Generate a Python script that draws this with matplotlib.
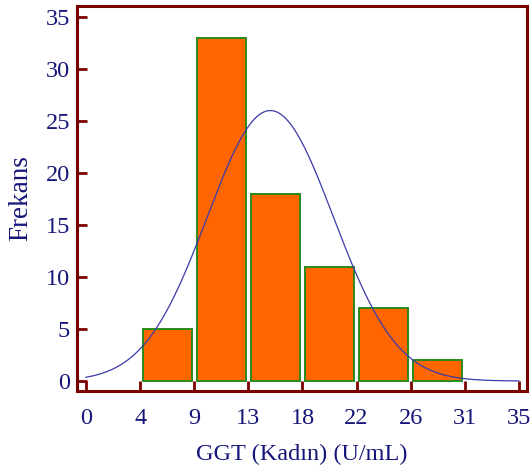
import numpy as np
import matplotlib
matplotlib.use("Agg")
import matplotlib.pyplot as plt

# Histogram data: GGT values of female subjects
bin_edges = [0, 4.375, 8.75, 13.125, 17.5, 21.875, 26.25, 30.625, 35]
tick_labels = ["0", "4", "9", "13", "18", "22", "26", "31", "35"]
counts = [0, 5, 33, 18, 11, 7, 2, 0]
fit_mean = 14.9
fit_sd = 5.1

navy = "#16167a"
frame = "#7a0000"

plt.rcParams["font.family"] = ["Liberation Serif", "DejaVu Serif"]

fig = plt.figure(figsize=(5.32, 4.75), dpi=100)
ax = fig.add_axes([0.1447, 0.1768, 0.8459, 0.8105])

edges = np.array(bin_edges)
width = edges[1] - edges[0]
centers = (edges[:-1] + edges[1:]) / 2
for c, n in zip(centers, counts):
    if n > 0:
        ax.bar(c, n, width=width * 0.9, color="#ff6600",
               edgecolor="#2a8a1a", linewidth=1.4, zorder=2)

# Fitted normal curve scaled to the histogram
n_total = sum(counts)
xs = np.linspace(edges[0], edges[-1], 400)
ys = n_total * width / (fit_sd * np.sqrt(2 * np.pi)) * np.exp(-0.5 * ((xs - fit_mean) / fit_sd) ** 2)
ax.plot(xs, ys, color="#3a3aa8", linewidth=0.9, zorder=3)

ax.set_xlim(-0.73, 35.65)
ax.set_ylim(-0.96, 36.06)
ax.set_xticks(bin_edges)
ax.set_xticklabels(tick_labels)
ax.set_yticks([0, 5, 10, 15, 20, 25, 30, 35])

for s in ax.spines.values():
    s.set_color(frame)
    s.set_linewidth(2.2)

ax.tick_params(axis="both", direction="in", length=7, width=2, color=frame,
               labelcolor=navy, labelsize=17.5)
ax.tick_params(axis="x", pad=12)
ax.tick_params(axis="y", pad=5)

ax.set_xlabel("GGT (Kadın) (U/mL)", fontsize=17.5, color=navy, labelpad=11)
ax.set_ylabel("Frekans", fontsize=19.5, color=navy, labelpad=9)

fig.savefig("out.png", dpi=100)
